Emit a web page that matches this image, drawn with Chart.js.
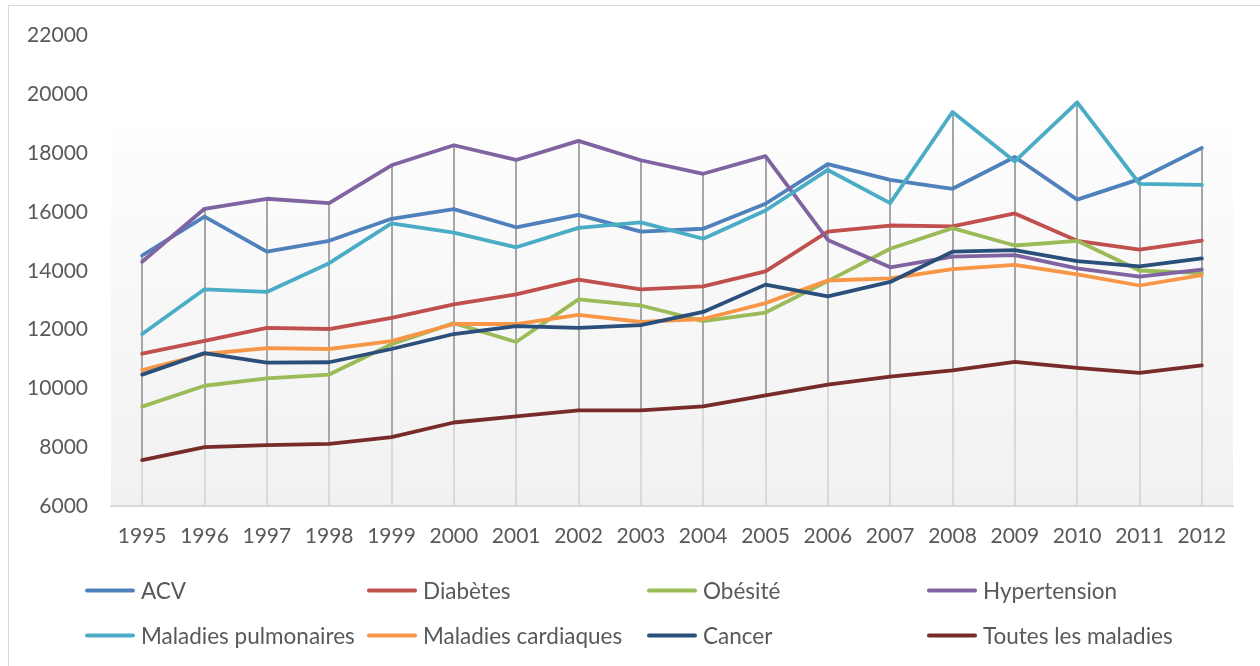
<!DOCTYPE html>
<html>
<head>
<meta charset="utf-8">
<script src="https://cdn.jsdelivr.net/npm/chart.js@4.4.0/dist/chart.umd.min.js"></script>
<style>
  html, body { margin:0; padding:0; background:#fff; width:1260px; height:666px; overflow:hidden; }
  #frame { position:absolute; left:8px; top:5px; width:1300px; height:700px; border:1.5px solid #d9d9d9; box-sizing:border-box; }
  #wrap { position:absolute; left:0; top:0; width:1260px; height:666px; }
  #legend { position:absolute; left:0; top:0; width:1260px; height:666px; pointer-events:none; font-family:Lato, "Open Sans", sans-serif; font-size:22.5px; color:#595959; }
  .item { position:absolute; display:flex; align-items:center; white-space:nowrap; transform:translateY(-50%); }
  .swatch { width:50px; height:4px; border-radius:2px; margin-right:6px; }
</style>
</head>
<body>
<div id="frame"></div>
<div id="wrap"><canvas id="c" width="1260" height="666"></canvas></div>
<div id="legend"></div>
<script>
const years = ["1995","1996","1997","1998","1999","2000","2001","2002","2003","2004","2005","2006","2007","2008","2009","2010","2011","2012"];
const yTicks = [6000, 8000, 10000, 12000, 14000, 16000, 18000, 20000, 22000];

const seriesNames = ["ACV","Diabètes","Obésité","Hypertension","Maladies pulmonaires","Maladies cardiaques","Cancer","Toutes les maladies"];
const seriesColors = ["#4f81bd","#c0504d","#9bbb59","#8064a2","#4bacc6","#f79646","#2b4f7b","#772c2a"];

const acv          = [14520,15840,14650,15020,15770,16100,15480,15900,15330,15430,16280,17630,17090,16790,17870,16420,17120,18180];
const diabetes     = [11180,11620,12060,12020,12400,12860,13200,13700,13370,13470,13980,15330,15540,15510,15950,15020,14720,15030];
const obesite      = [9380,10090,10340,10470,11500,12220,11580,13030,12820,12290,12580,13650,14750,15450,14860,15020,14010,13920];
const hypertension = [14310,16110,16450,16300,17590,18270,17770,18420,17760,17300,17900,15050,14120,14480,14530,14080,13800,14040];
const pulmonaires  = [11850,13370,13280,14260,15610,15300,14800,15460,15650,15090,16050,17430,16300,19400,17720,19730,16960,16920];
const cardiaques   = [10620,11170,11370,11340,11610,12190,12190,12500,12260,12360,12900,13670,13740,14060,14200,13880,13500,13850];
const cancer       = [10470,11200,10880,10890,11340,11850,12120,12060,12150,12600,13530,13130,13620,14650,14700,14330,14150,14420];
const toutes       = [7560,8000,8070,8110,8340,8840,9050,9250,9250,9390,9760,10130,10400,10610,10900,10700,10530,10780];

const seriesData = [acv, diabetes, obesite, hypertension, pulmonaires, cardiaques, cancer, toutes];

const datasets = seriesData.map((d, i) => ({
  label: seriesNames[i],
  data: d,
  borderColor: seriesColors[i],
  backgroundColor: seriesColors[i],
  borderWidth: 3.8,
  pointRadius: 0,
  pointHoverRadius: 0,
  tension: 0,
  fill: false,
  borderJoinStyle: 'round',
  borderCapStyle: 'round',
  order: -i
}));

const bgPlugin = {
  id: 'plotBg',
  beforeDraw(chart) {
    const {ctx, chartArea:a} = chart;
    const g = ctx.createLinearGradient(0, a.top, 0, a.bottom);
    g.addColorStop(0, '#ffffff');
    g.addColorStop(0.2, '#fdfdfd');
    g.addColorStop(1, '#f1f1f1');
    ctx.save();
    ctx.fillStyle = g;
    ctx.fillRect(a.left, a.top + 95, a.right - a.left, a.bottom - a.top - 95);
    ctx.restore();
  }
};

const dropPlugin = {
  id: 'dropLines',
  beforeDatasetsDraw(chart) {
    const {ctx, scales:{x, y}} = chart;
    ctx.save();
    ctx.lineWidth = 2;
    years.forEach((yr, j) => {
      const vals = seriesData.map(s => s[j]);
      const hi = Math.max(...vals), lo = Math.min(...vals);
      const px = Math.round(x.getPixelForValue(j));
      ctx.strokeStyle = '#d9d9d9';
      ctx.beginPath();
      ctx.moveTo(px, y.getPixelForValue(lo));
      ctx.lineTo(px, y.bottom);
      ctx.stroke();
      ctx.strokeStyle = '#a6a6a6';
      ctx.beginPath();
      ctx.moveTo(px, y.getPixelForValue(hi));
      ctx.lineTo(px, y.getPixelForValue(lo));
      ctx.stroke();
    });
    ctx.restore();
  }
};

const font = { family: 'Lato, "Open Sans", sans-serif', size: 21 };

new Chart(document.getElementById('c'), {
  type: 'line',
  data: { labels: years, datasets },
  options: {
    responsive: false,
    animation: false,
    events: [],
    layout: { padding: { left: 20, right: 27, top: 33, bottom: 110 } },
    plugins: { legend: { display: false }, tooltip: { enabled: false } },
    scales: {
      x: {
        offset: true,
        grid: { display: false, drawTicks: false },
        border: { display: true, color: '#d9d9d9', width: 2 },
        ticks: { color: '#595959', font, padding: 18, maxRotation: 0, autoSkip: false },
        afterFit(s) { s.height = 50; }
      },
      y: {
        min: 6000, max: 22000,
        afterBuildTicks(s) { s.ticks = yTicks.map(v => ({ value: v })); },
        grid: { display: false, drawTicks: false },
        border: { display: false },
        ticks: { color: '#595959', font, padding: 23, callback: v => String(v) },
        afterFit(s) { s.width = 91; }
      }
    }
  },
  plugins: [bgPlugin, dropPlugin]
});

// legend
const legend = document.getElementById('legend');
const colX = [85, 367, 647, 927];
const rowY = [590, 635];
seriesNames.forEach((name, i) => {
  const it = document.createElement('div');
  it.className = 'item';
  it.style.left = colX[i % 4] + 'px';
  it.style.top = rowY[Math.floor(i / 4)] + 'px';
  const sw = document.createElement('div');
  sw.className = 'swatch';
  sw.style.background = seriesColors[i];
  const t = document.createElement('span');
  t.textContent = name;
  it.appendChild(sw); it.appendChild(t);
  legend.appendChild(it);
});
</script>
</body>
</html>
